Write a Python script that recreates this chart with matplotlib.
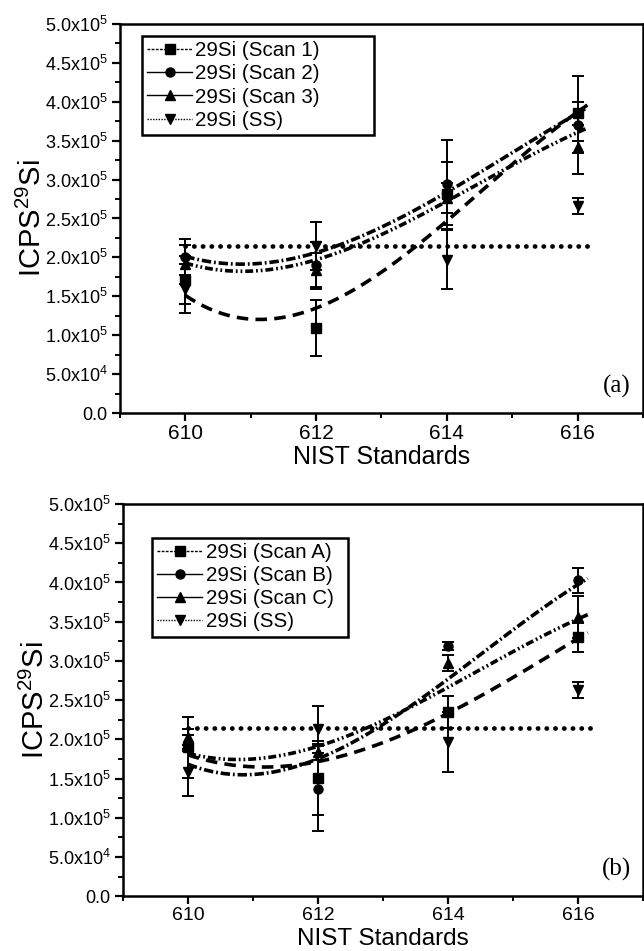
import numpy as np
import matplotlib.pyplot as plt
from matplotlib.lines import Line2D
from matplotlib.ticker import MultipleLocator, FuncFormatter

plt.rcParams['font.family'] = ['Liberation Sans', 'DejaVu Sans']
plt.rcParams['mathtext.default'] = 'regular'

nist = [610, 612, 614, 616]

# panel (a): mean counts and error bars (x1e5)
scan1 = [1.71, 1.09, 2.82, 3.85]
scan1_err = [0.31, 0.36, 0.40, 0.15]
scan2 = [2.01, 1.90, 2.94, 3.70]
scan2_err = [0.23, 0.30, 0.57, 0.63]
scan3 = [1.91, 1.84, 2.76, 3.42]
scan3_err = [0.25, 0.22, 0.19, 0.08]
ss_a = [1.60, 2.15, 1.97, 2.66]
ss_a_err = [0.31, 0.31, 0.38, 0.10]

# panel (b)
scanA = [1.90, 1.51, 2.35, 3.30]
scanA_err = [0.39, 0.47, 0.20, 0.18]
scanB = [1.95, 1.37, 3.19, 4.03]
scanB_err = [0.10, 0.54, 0.05, 0.16]
scanC = [2.03, 1.84, 2.97, 3.56]
scanC_err = [0.10, 0.10, 0.10, 0.27]
ss_b = [1.58, 2.13, 1.97, 2.63]
ss_b_err = [0.30, 0.30, 0.38, 0.10]

# trend curves (x1e5)
fit_x = [610, 611, 612, 613, 614, 615, 616, 616.15]
fit1 = [1.49, 1.27, 1.30, 1.80, 2.48, 3.21, 3.87, 3.95]
fit2 = [2.00, 1.95, 2.05, 2.36, 2.85, 3.36, 3.85, 3.92]
fit3 = [1.91, 1.87, 1.95, 2.26, 2.74, 3.20, 3.60, 3.66]
fitA = [1.80, 1.67, 1.68, 1.98, 2.35, 2.76, 3.31, 3.35]
fitB = [1.67, 1.60, 1.70, 2.20, 2.79, 3.38, 3.99, 4.04]
fitC = [1.81, 1.78, 1.90, 2.22, 2.67, 3.13, 3.54, 3.58]
ss_level = 2.15
ss_span = [610, 616.2]

styles = [
    ('s', (0, (3.2, 2.0)), (0, (2, 1))),
    ('o', (0, (2.6, 0.8, 0.5, 0.8)), '-'),
    ('^', (0, (2.2, 0.8, 0.5, 0.8, 0.5, 0.8)), '-'),
]


def sci(v, pos):
    if v < 1:
        return '0.0' if abs(v) < 1 else ''
    e = int(np.floor(np.log10(v) + 1e-9))
    return '%.1fx10$^{%d}$' % (v / 10 ** e, e)


def panel(ax, series, fits, ss, ss_err, names, tag, leg_box, xlab_y,
          xtick_size, xlab_size):
    x = np.array(nist)
    for (y, err), fy, (mk, fls, _) in zip(series, fits, styles):
        ax.errorbar(x, np.array(y) * 1e5, yerr=np.array(err) * 1e5, fmt=mk,
                    color='black', ms=6.5, elinewidth=1.4, capsize=4,
                    capthick=1.4)
        c = np.polyfit(fit_x, fy, 3)
        xx = np.linspace(fit_x[0], fit_x[-1], 200)
        ax.plot(xx, np.polyval(c, xx) * 1e5, color='black', lw=2.6, ls=fls)
    ax.errorbar(x, np.array(ss) * 1e5, yerr=np.array(ss_err) * 1e5, fmt='v',
                color='black', ms=7, elinewidth=1.4, capsize=4, capthick=1.4)
    ax.plot(ss_span, [ss_level * 1e5] * 2, color='black', lw=3.4,
            ls=(0, (0.05, 1.8)), dash_capstyle='round')

    ax.set_xlim(609, 617)
    ax.set_ylim(0, 5e5)
    ax.xaxis.set_major_locator(MultipleLocator(2))
    ax.xaxis.set_minor_locator(MultipleLocator(1))
    ax.yaxis.set_major_locator(MultipleLocator(5e4))
    ax.yaxis.set_minor_locator(MultipleLocator(2.5e4))
    ax.yaxis.set_major_formatter(FuncFormatter(sci))
    ax.tick_params(which='major', length=6, width=1.6, direction='out')
    ax.tick_params(which='minor', length=3.5, width=1.4, direction='out')
    ax.tick_params(axis='x', labelsize=xtick_size, pad=2)
    ax.tick_params(axis='y', labelsize=13, pad=3)
    for s in ax.spines.values():
        s.set_linewidth(1.8)
    ax.set_xlabel('NIST Standards', fontsize=xlab_size, va='baseline')
    ax.set_ylabel('ICPS$^{29}$Si', fontsize=21)
    ax.xaxis.set_label_coords(0.5, xlab_y)
    ax.yaxis.set_label_coords(-0.14, 0.5)
    ax.text(0.95, 0.068, tag, transform=ax.transAxes, fontsize=18,
            family='Liberation Serif', ha='center', va='center')

    handles = []
    for mk, _, lls in styles:
        handles.append(Line2D([], [], color='black', marker=mk, ms=6.5,
                              lw=1.0, ls=lls))
    handles.append(Line2D([], [], color='black', marker='v', ms=7, lw=1.0,
                          ls=(0, (1, 1))))
    leg = ax.legend(handles, names, loc='lower left', bbox_to_anchor=leg_box,
                    mode='expand', borderaxespad=0, fontsize=14.8,
                    handlelength=2.2, handletextpad=0.15, labelspacing=0.2,
                    borderpad=0.25, fancybox=False, framealpha=1)
    leg.get_frame().set_edgecolor('black')
    leg.get_frame().set_linewidth(1.8)


fig = plt.figure(figsize=(6.44, 9.51), dpi=100)
ax1 = fig.add_axes([0.1863, 0.5657, 0.8121, 0.4091])
ax2 = fig.add_axes([0.1910, 0.0575, 0.8074, 0.4125])

panel(ax1, [(scan1, scan1_err), (scan2, scan2_err), (scan3, scan3_err)],
      [fit1, fit2, fit3], ss_a, ss_a_err,
      ['29Si (Scan 1)', '29Si (Scan 2)', '29Si (Scan 3)', '29Si (SS)'],
      '(a)', (0.042, 0.715, 0.444, 0.252), -0.13, 15, 18)
panel(ax2, [(scanA, scanA_err), (scanB, scanB_err), (scanC, scanC_err)],
      [fitA, fitB, fitC], ss_b, ss_b_err,
      ['29Si (Scan A)', '29Si (Scan B)', '29Si (Scan C)', '29Si (SS)'],
      '(b)', (0.056, 0.662, 0.377, 0.264), -0.125, 14, 17.5)

fig.savefig('out.png', dpi=100)
